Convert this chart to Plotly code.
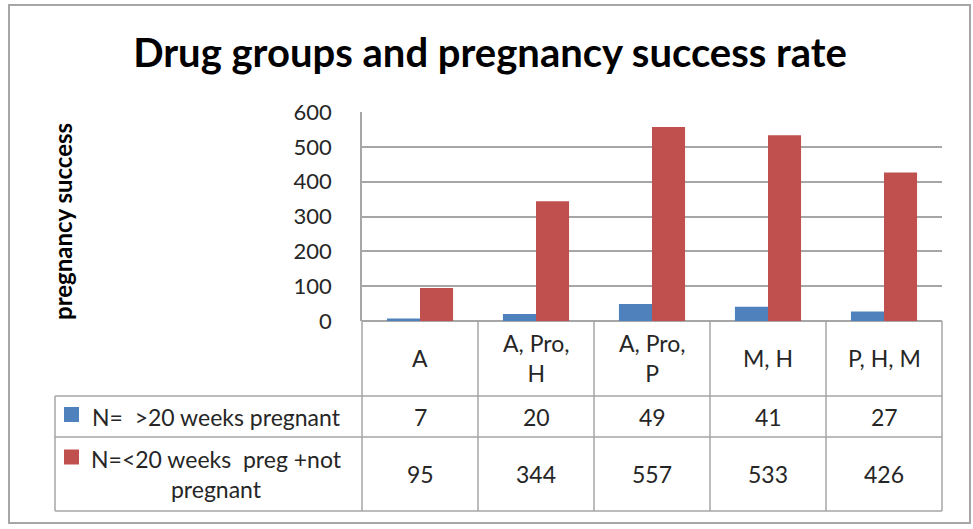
import plotly.graph_objects as go

# ---- data ----
categories = ["A", "A, Pro, H", "A, Pro, P", "M, H", "P, H, M"]
category_labels = ["A", "A, Pro,<br>H", "A, Pro,<br>P", "M, H", "P, H, M"]
series_names = ["N=  >20 weeks pregnant", "N=<20 weeks  preg +not pregnant"]
series_labels = ["N=  >20 weeks pregnant", "N=<20 weeks  preg +not<br>pregnant"]
over20 = [7, 20, 49, 41, 27]
under20 = [95, 344, 557, 533, 426]
y_ticks = [0, 100, 200, 300, 400, 500, 600]

title_text = "Drug groups and pregnancy success rate"
y_title = "pregnancy success"

colors = ["#4F81BD", "#C0504D"]
FONT = "Lato, Carlito, Calibri, sans-serif"
GRID = "#A6A6A6"
TXT = "#262626"

W, H = 973, 529
L, R, T, B = 362, 942, 112, 321


def px(x):
    return (x - L) / (R - L)


def py(y):
    return (B - y) / (B - T)


def esc(s):
    s = s.replace("&", "&amp;").replace("<br>", "\x00")
    s = s.replace("<", "&lt;").replace(">", "&gt;").replace("\x00", "<br>")
    return s.replace("  ", "\u00a0\u00a0")


fig = go.Figure()
fig.add_bar(x=categories, y=over20, name=series_names[0], marker_color=colors[0],
            marker_line_width=0)
fig.add_bar(x=categories, y=under20, name=series_names[1], marker_color=colors[1],
            marker_line_width=0)

shapes = []
annotations = []

# outer chart border
shapes.append(dict(type="rect", xref="paper", yref="paper",
                   x0=px(9), x1=px(970), y0=py(5), y1=py(523),
                   line=dict(color="#A6A6A6", width=2), layer="below"))

line = dict(color=GRID, width=1.5)
# data table horizontal lines
for yy, x0 in [(396, 55), (437, 55), (511, 55)]:
    shapes.append(dict(type="line", xref="paper", yref="paper",
                       x0=px(x0), x1=px(R), y0=py(yy), y1=py(yy), line=line))
# left border of legend column
shapes.append(dict(type="line", xref="paper", yref="paper",
                   x0=px(55), x1=px(55), y0=py(396), y1=py(511), line=line))
# vertical cell boundaries (at category edges)
n = len(categories)
for i in range(n + 1):
    xb = i / n
    shapes.append(dict(type="line", xref="paper", yref="paper",
                       x0=xb, x1=xb, y0=py(B), y1=py(511), line=line))

FS = 23
# category row and value rows
row_y = [358, 416.5, 474]
for i, cat in enumerate(categories):
    annotations.append(dict(x=cat, xref="x", y=py(row_y[0]), yref="paper",
                            xanchor="center", yanchor="middle",
                            text=esc(category_labels[i]), showarrow=False,
                            font=dict(size=FS, color=TXT), align="center"))
    for r, vals in enumerate([over20, under20]):
        annotations.append(dict(x=cat, xref="x", y=py(row_y[r + 1]), yref="paper",
                                xanchor="center", yanchor="middle",
                                text=str(vals[i]), showarrow=False,
                                font=dict(size=FS, color=TXT)))

# legend column
key_y = [414.5, 457]
for r in range(2):
    annotations.append(dict(x=px(216), xref="paper", y=py(row_y[r + 1]), yref="paper",
                            xanchor="center", yanchor="middle",
                            text=esc(series_labels[r]), showarrow=False,
                            font=dict(size=FS, color=TXT), align="center"))
    shapes.append(dict(type="rect", xref="paper", yref="paper",
                       x0=px(64), x1=px(79), y0=py(key_y[r] - 7.5), y1=py(key_y[r] + 7.5),
                       fillcolor=colors[r], line=dict(width=0)))

# y-axis title
annotations.append(dict(x=px(62), xref="paper", y=py(222), yref="paper",
                        xanchor="center", yanchor="middle",
                        text="<b>" + y_title + "</b>", textangle=-90, showarrow=False,
                        font=dict(size=24, color="#000")))

fig.update_layout(
    width=W, height=H,
    margin=dict(l=L, r=W - R, t=T, b=H - B, pad=0),
    paper_bgcolor="white", plot_bgcolor="white",
    font=dict(family=FONT, color=TXT),
    title=dict(text="<b>" + title_text + "</b>", x=490 / W, xanchor="center",
               y=1 - 53 / H, yanchor="middle",
               font=dict(size=40, color="#000", family=FONT)),
    showlegend=False,
    barmode="group", bargap=0.43, bargroupgap=0,
    shapes=shapes, annotations=annotations,
    xaxis=dict(showticklabels=False, showgrid=False, showline=False,
               ticks="", zeroline=False, fixedrange=True),
    yaxis=dict(range=[0, 600], tickvals=y_ticks, showgrid=True, gridcolor=GRID,
               gridwidth=1.5, showline=True, linecolor=GRID, linewidth=1.5,
               zeroline=True, zerolinecolor=GRID, zerolinewidth=1.5,
               ticks="", ticklabelstandoff=24,
               tickfont=dict(size=22, color=TXT), fixedrange=True),
)

fig.write_html("out.html", config={"displayModeBar": False},
               post_script="document.body.style.margin='0';")
